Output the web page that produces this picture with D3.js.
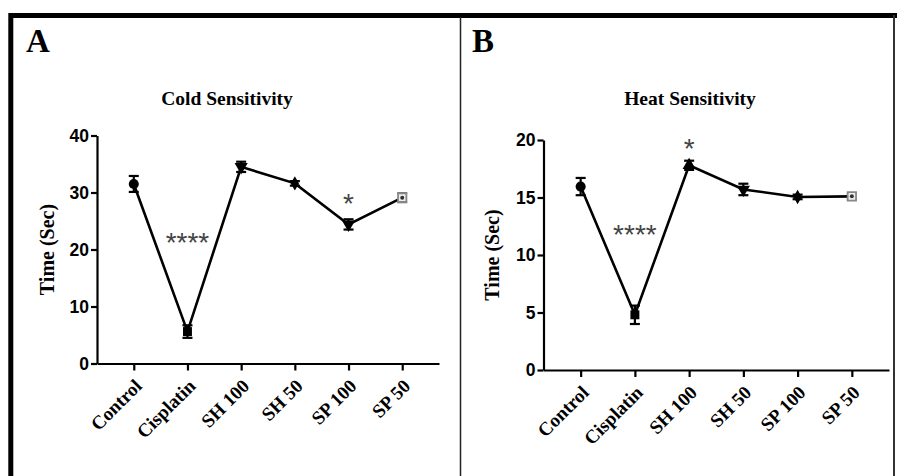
<!DOCTYPE html>
<html>
<head>
<meta charset="utf-8">
<script src="https://cdn.jsdelivr.net/npm/d3@7"></script>
<style>
    body { margin: 0; background: #fff; }
    svg { display: block; }
    .axis path, .axis line { stroke: #000; stroke-width: 2.2px; }
</style>
</head>
<body>
<div id="chart"></div>
<script>
// groups on the x axis
const categories = ['Control', 'Cisplatin', 'SH 100', 'SH 50', 'SP 100', 'SP 50'];

// cold sensitivity (sec), mean and error
const coldMean = [31.5, 5.6, 34.5, 31.6, 24.4, 29.1];
const coldErr = [1.4, 1.1, 0.9, 0.4, 0.9, 0.8];
const coldTicks = [0, 10, 20, 30, 40];

// heat sensitivity (sec), mean and error
const heatMean = [15.95, 4.8, 17.8, 15.7, 15.05, 15.1];
const heatErr = [0.75, 0.8, 0.4, 0.5, 0.2, 0.25];
const heatTicks = [0, 5, 10, 15, 20];

// marker shape for each group
const coldMarkers = ['circle', 'square', 'down', 'diamond', 'down', 'open'];
const heatMarkers = ['circle', 'square', 'up', 'down', 'diamond', 'open'];

const width = 897, height = 476;

const svg = d3.select('#chart')
    .append('svg')
    .attr('width', width)
    .attr('height', height);

svg.append('rect')
    .attr('width', width)
    .attr('height', height)
    .attr('fill', '#fff');

// outer frame
svg.append('path')
    .attr('d', `M10.8,${height + 5} V15.5 H${width + 5}`)
    .attr('fill', 'none')
    .attr('stroke', '#000')
    .attr('stroke-width', 5);
svg.append('line')
    .attr('x1', 894).attr('x2', 894)
    .attr('y1', 15).attr('y2', height)
    .attr('stroke', '#333')
    .attr('stroke-width', 2);
// divider
svg.append('line')
    .attr('x1', 460.5).attr('x2', 460.5)
    .attr('y1', 17).attr('y2', height)
    .attr('stroke', '#222')
    .attr('stroke-width', 1.5);

function drawPanel(cfg) {
    const x = d3.scalePoint()
        .domain(categories)
        .range([cfg.left, cfg.right])
        .padding(0.685);

    const y = d3.scaleLinear()
        .domain([0, cfg.ticks[cfg.ticks.length - 1]])
        .range([cfg.bottom, cfg.top]);

    const g = svg.append('g');

    // panel letter
    g.append('text')
        .attr('x', cfg.letterX)
        .attr('y', 52)
        .attr('font-family', 'Liberation Serif')
        .attr('font-weight', 'bold')
        .attr('font-size', 33)
        .text(cfg.letter);

    // title
    g.append('text')
        .attr('x', cfg.titleX)
        .attr('y', 105)
        .attr('text-anchor', 'middle')
        .attr('font-family', 'Liberation Serif')
        .attr('font-weight', 'bold')
        .attr('font-size', 19.5)
        .text(cfg.title);

    // y axis
    const yAxisG = g.append('g')
        .attr('class', 'axis y-axis')
        .attr('transform', `translate(${cfg.left},0)`)
        .call(d3.axisLeft(y).tickValues(cfg.ticks).tickSize(6).tickSizeOuter(0).tickPadding(2));
    yAxisG.selectAll('text')
        .attr('font-family', 'Liberation Sans')
        .attr('font-weight', 'bold')
        .attr('font-size', 17.5)
        .attr('fill', '#000');

    // x axis
    const xAxisG = g.append('g')
        .attr('class', 'axis x-axis')
        .attr('transform', `translate(0,${cfg.bottom})`)
        .call(d3.axisBottom(x).tickSize(7).tickSizeOuter(0));
    xAxisG.selectAll('text')
        .attr('font-family', 'Liberation Serif')
        .attr('font-weight', 'bold')
        .attr('font-size', 19)
        .attr('fill', '#000')
        .attr('text-anchor', 'end')
        .attr('dy', '0.35em')
        .attr('transform', 'translate(4,19) rotate(-45)')
        .attr('y', 0)
        .attr('x', 0);

    // y axis label
    g.append('text')
        .attr('transform', `translate(${cfg.yLabelX},${(cfg.top + cfg.bottom) / 2}) rotate(-90)`)
        .attr('text-anchor', 'middle')
        .attr('font-family', 'Liberation Serif')
        .attr('font-weight', 'bold')
        .attr('font-size', 20)
        .text('Time (Sec)');

    const rows = categories.map((c, i) => ({
        cat: c, mean: cfg.mean[i], err: cfg.err[i], marker: cfg.markers[i]
    }));

    // connecting line
    g.append('path')
        .datum(rows)
        .attr('fill', 'none')
        .attr('stroke', '#000')
        .attr('stroke-width', 2.6)
        .attr('d', d3.line().x(d => x(d.cat)).y(d => y(d.mean)));

    // error bars
    const eb = g.selectAll('.err')
        .data(rows)
        .join('g')
        .attr('class', 'err')
        .attr('stroke', d => d.marker === 'open' ? '#777' : '#000')
        .attr('stroke-width', 2.2);
    eb.append('line')
        .attr('x1', d => x(d.cat)).attr('x2', d => x(d.cat))
        .attr('y1', d => y(d.mean - d.err)).attr('y2', d => y(d.mean + d.err));
    eb.append('line')
        .attr('x1', d => x(d.cat) - 5).attr('x2', d => x(d.cat) + 5)
        .attr('y1', d => y(d.mean + d.err)).attr('y2', d => y(d.mean + d.err));
    eb.append('line')
        .attr('x1', d => x(d.cat) - 5).attr('x2', d => x(d.cat) + 5)
        .attr('y1', d => y(d.mean - d.err)).attr('y2', d => y(d.mean - d.err));

    // markers
    const symbolFor = {
        circle: d3.symbol(d3.symbolCircle, 80),
        square: d3.symbol(d3.symbolSquare, 80),
        up: d3.symbol(d3.symbolTriangle, 75),
        down: d3.symbol(d3.symbolTriangle, 75),
        diamond: d3.symbol(d3.symbolDiamond, 60),
        open: d3.symbol(d3.symbolSquare, 70)
    };
    g.selectAll('.marker')
        .data(rows)
        .join('path')
        .attr('class', 'marker')
        .attr('d', d => symbolFor[d.marker]())
        .attr('transform', d => `translate(${x(d.cat)},${y(d.mean)})` + (d.marker === 'down' ? ' rotate(180)' : ''))
        .attr('fill', d => d.marker === 'open' ? '#eee' : '#000')
        .attr('stroke', d => d.marker === 'open' ? '#888' : 'none')
        .attr('stroke-width', 1.8);
    g.selectAll('.inner')
        .data(rows.filter(d => d.marker === 'open'))
        .join('circle')
        .attr('class', 'inner')
        .attr('cx', d => x(d.cat))
        .attr('cy', d => y(d.mean))
        .attr('r', 2)
        .attr('fill', '#333');

    // significance stars
    g.selectAll('.star')
        .data(cfg.stars)
        .join('text')
        .attr('class', 'star')
        .attr('x', d => x(d.cat))
        .attr('y', d => y(d.at))
        .attr('text-anchor', 'middle')
        .attr('font-family', 'Liberation Sans')
        .attr('font-size', 28)
        .attr('fill', '#444')
        .text(d => d.text);
}

drawPanel({
    letter: 'A', letterX: 26, title: 'Cold Sensitivity', titleX: 227,
    left: 97, right: 439, top: 135.5, bottom: 363.5, yLabelX: 54,
    ticks: coldTicks, mean: coldMean, err: coldErr, markers: coldMarkers,
    stars: [{ cat: 'Cisplatin', text: '****', at: 19.5 }, { cat: 'SP 100', text: '*', at: 26.4 }]
});

drawPanel({
    letter: 'B', letterX: 472, title: 'Heat Sensitivity', titleX: 690,
    left: 543.5, right: 889, top: 140, bottom: 370, yLabelX: 499,
    ticks: heatTicks, mean: heatMean, err: heatErr, markers: heatMarkers,
    stars: [{ cat: 'Cisplatin', text: '****', at: 11.0 }, { cat: 'SH 100', text: '*', at: 18.4 }]
});
</script>
</body>
</html>
